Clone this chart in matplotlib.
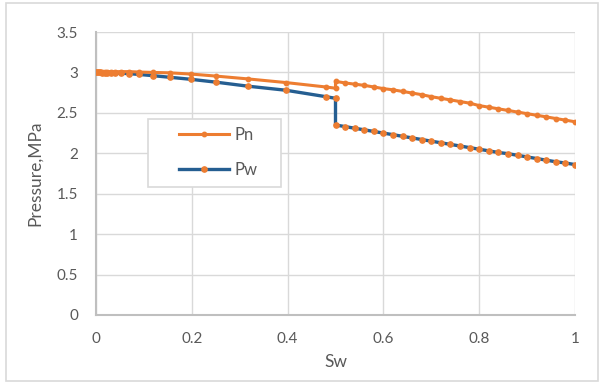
import numpy as np
import matplotlib
matplotlib.use('Agg')
from matplotlib import pyplot as plt
from matplotlib.patches import Rectangle

# water saturation, dense near 0, then uniform after the jump at 0.5
sw_left = [0.0, 0.004, 0.008, 0.013, 0.018, 0.024, 0.031, 0.040, 0.052, 0.069,
           0.090, 0.119, 0.154, 0.198, 0.250, 0.317, 0.396, 0.480, 0.500]
pn_left = [3.0, 3.0, 3.005, 3.005, 3.007, 3.008, 3.009, 3.01, 3.01, 3.01,
           3.005, 3.0, 2.995, 2.98, 2.955, 2.92, 2.875, 2.82, 2.805]
pw_left = [3.0, 3.0, 3.0, 2.999, 2.998, 2.997, 2.995, 2.993, 2.99, 2.985,
           2.975, 2.96, 2.94, 2.915, 2.88, 2.83, 2.78, 2.70, 2.68]

sw_right = [0.50, 0.52, 0.54, 0.56, 0.58, 0.60, 0.62, 0.64, 0.66, 0.68,
            0.70, 0.72, 0.74, 0.76, 0.78, 0.80, 0.82, 0.84, 0.86, 0.88,
            0.90, 0.92, 0.94, 0.96, 0.98, 1.00]
pn_right = [2.89, 2.87, 2.855, 2.84, 2.82, 2.80, 2.785, 2.765, 2.745, 2.725,
            2.70, 2.68, 2.66, 2.64, 2.62, 2.59, 2.57, 2.55, 2.53, 2.51,
            2.49, 2.47, 2.45, 2.43, 2.41, 2.39]
pw_right = [2.35, 2.33, 2.31, 2.29, 2.27, 2.25, 2.23, 2.21, 2.19, 2.17,
            2.15, 2.13, 2.11, 2.09, 2.07, 2.05, 2.03, 2.01, 1.995, 1.975,
            1.955, 1.935, 1.915, 1.895, 1.88, 1.86]

sw = sw_left + sw_right
pn = pn_left + pn_right
pw = pw_left + pw_right

orange = '#ED7D31'
blue = '#255E91'
grey_txt = '#595959'

plt.rcParams['font.family'] = ['Lato', 'DejaVu Sans']

fig = plt.figure(figsize=(6.04, 3.83), dpi=100)
ax = fig.add_axes([96 / 604, 1 - 315 / 383, 479 / 604, 283 / 383])

fig.patches.append(Rectangle((6 / 604, 2 / 383), 592 / 604, 378 / 383,
                             transform=fig.transFigure, fill=False,
                             edgecolor='#D9D9D9', linewidth=1.2))

ax.plot(sw, pw, color=blue, lw=2.4, marker='o', ms=3.8,
        mfc=orange, mec=orange, label='Pw', zorder=3)
ax.plot(sw, pn, color=orange, lw=2.2, marker='o', ms=3.2,
        mfc=orange, mec=orange, label='Pn', zorder=4)

ax.set_xlim(0, 1)
ax.set_ylim(0, 3.5)
ax.set_xticks(np.arange(0, 1.01, 0.2))
ax.set_xticklabels(['0', '0.2', '0.4', '0.6', '0.8', '1'])
ax.set_yticks(np.arange(0, 3.51, 0.5))
ax.set_yticklabels(['0', '0.5', '1', '1.5', '2', '2.5', '3', '3.5'])
ax.grid(True, color='#D9D9D9', lw=1.0)
ax.set_axisbelow(True)
for s in ['top', 'right']:
    ax.spines[s].set_visible(False)
for s in ['left', 'bottom']:
    ax.spines[s].set_color('#BFBFBF')
    ax.spines[s].set_linewidth(1.5)
ax.tick_params(length=0, labelsize=11, colors=grey_txt)
ax.tick_params(axis='x', pad=12)
ax.tick_params(axis='y', pad=13)

ax.set_xlabel('Sw', fontsize=12.5, color=grey_txt, labelpad=6)
ax.set_ylabel('Pressure,MPa', fontsize=12.5, color=grey_txt, labelpad=10)

# legend box drawn separately (wider padding on the left than on top)
ax.add_patch(Rectangle((0.1086, 0.452), 0.2777, 0.240, transform=ax.transAxes,
                       facecolor='white', edgecolor='#D9D9D9', lw=1.2,
                       zorder=5))
h, l = ax.get_legend_handles_labels()
leg = ax.legend(h[::-1], l[::-1], loc='upper left',
                bbox_to_anchor=(0.173, 0.664), fontsize=12,
                frameon=False, handlelength=3.0,
                borderpad=0, labelspacing=1.14, handletextpad=0.35,
                borderaxespad=0)
leg.set_zorder(6)
for t in leg.get_texts():
    t.set_color(grey_txt)

fig.savefig('out.png', dpi=100)
